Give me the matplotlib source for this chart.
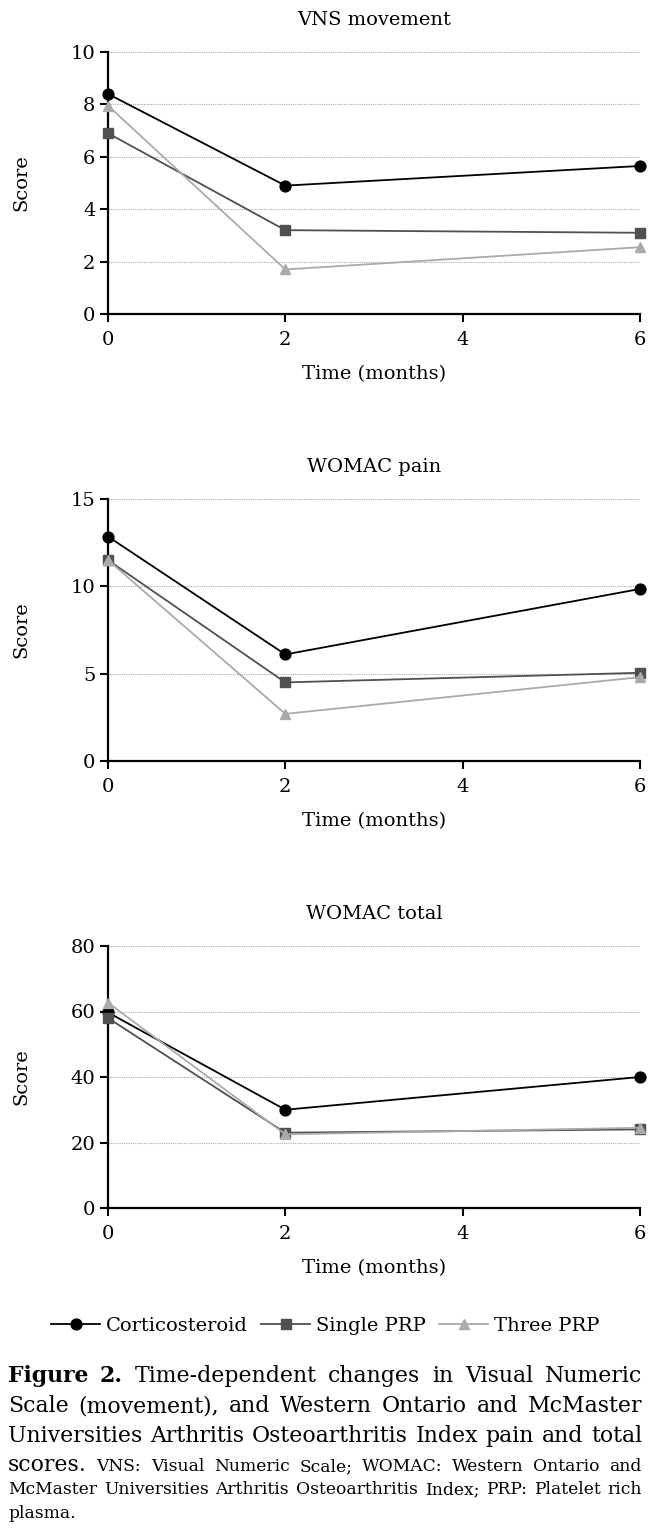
import matplotlib
matplotlib.use('Agg')
import matplotlib.pyplot as plt
from matplotlib.lines import Line2D

# Data
months = [0, 2, 6]
x_ticks = [0, 2, 4, 6]
panel_titles = ['VNS movement', 'WOMAC pain', 'WOMAC total']
y_ticks = [[0, 2, 4, 6, 8, 10], [0, 5, 10, 15], [0, 20, 40, 60, 80]]

corticosteroid = [[8.4, 4.9, 5.65], [12.85, 6.1, 9.85], [59.7, 30.0, 40.0]]
single_prp = [[6.9, 3.2, 3.1], [11.5, 4.5, 5.05], [58.0, 23.0, 24.0]]
three_prp = [[7.95, 1.7, 2.55], [11.5, 2.7, 4.8], [62.7, 22.5, 24.5]]

group_names = ['Corticosteroid', 'Single PRP', 'Three PRP']
group_colors = ['#000000', '#505050', '#aaaaaa']
group_markers = ['o', 's', '^']

caption_big = 15.8
caption_small = 12.3

W, H = 660, 1534
plt.rcParams['font.family'] = ['DejaVu Serif']
fig = plt.figure(figsize=(W / 100, H / 100), dpi=100)

FS = 14
panel_top = [52, 499, 946]
panel_h = 262
ax_left, ax_right = 108, 640

for i, title in enumerate(panel_titles):
    top = panel_top[i]
    ax = fig.add_axes([ax_left / W, 1 - (top + panel_h) / H,
                       (ax_right - ax_left) / W, panel_h / H])
    series = [corticosteroid[i], single_prp[i], three_prp[i]]
    for vals, c, m in zip(series, group_colors, group_markers):
        ax.plot(months, vals, color=c, marker=m, markersize=7.8, lw=1.3,
                clip_on=False, zorder=5)
    ax.set_xlim(0, 6)
    ax.set_ylim(0, y_ticks[i][-1])
    ax.set_xticks(x_ticks)
    ax.set_yticks(y_ticks[i])
    for s in ['top', 'right']:
        ax.spines[s].set_visible(False)
    for s in ['left', 'bottom']:
        ax.spines[s].set_linewidth(1.6)
    ax.tick_params(length=6, width=1.5, labelsize=FS, direction='out')
    ax.tick_params(axis='x', pad=6)
    ax.tick_params(axis='y', pad=3)
    ax.yaxis.grid(True, linestyle=(0, (1, 1)), color='#aaaaaa', linewidth=0.8)
    ax.set_axisbelow(True)
    ax.set_xlabel('Time (months)', fontsize=FS, labelpad=12)
    fig.text(21 / W, 1 - (top + panel_h / 2) / H, 'Score', rotation=90,
             ha='center', va='center', fontsize=FS)
    fig.text((ax_left + ax_right) / 2 / W, 1 - (top - 32) / H, title,
             ha='center', va='center', fontsize=FS)

handles = [Line2D([], [], color=c, marker=m, markersize=7.8, lw=1.3)
           for c, m in zip(group_colors, group_markers)]
fig.legend(handles, group_names, loc='center', bbox_to_anchor=(0.493, 1 - 1326 / H),
           ncol=3, frameon=False, handlelength=2.5, handletextpad=0.3,
           columnspacing=0.7, fontsize=FS)


def place_line(segments, y_px, x0=8, x1=642, justify=True):
    renderer = fig.canvas.get_renderer()
    items = []
    for text, size, weight in segments:
        for w in text.split():
            t = fig.text(0, 0, w, fontsize=size, fontweight=weight,
                         ha='left', va='baseline')
            items.append((t, size))
    widths = [t.get_window_extent(renderer).width for t, s in items]
    gap = 0
    if justify and len(items) > 1:
        gap = (x1 - x0 - sum(widths)) / (len(items) - 1)
    x = x0
    for (t, s), w in zip(items, widths):
        t.set_position((x / W, 1 - y_px / H))
        x += w + (gap if justify else 0.3 * s * 100 / 72)


place_line([('Figure 2.', caption_big, 'bold'),
            ('Time-dependent changes in Visual Numeric', caption_big, 'normal')], 1382)
place_line([('Scale (movement), and Western Ontario and McMaster', caption_big, 'normal')], 1412)
place_line([('Universities Arthritis Osteoarthritis Index pain and total', caption_big, 'normal')], 1442)
place_line([('scores.', caption_big, 'normal'),
            ('VNS: Visual Numeric Scale; WOMAC: Western Ontario and', caption_small, 'normal')], 1471)
place_line([('McMaster Universities Arthritis Osteoarthritis Index; PRP: Platelet rich',
             caption_small, 'normal')], 1494)
place_line([('plasma.', caption_small, 'normal')], 1518, justify=False)

fig.savefig('out.png', dpi=100)
